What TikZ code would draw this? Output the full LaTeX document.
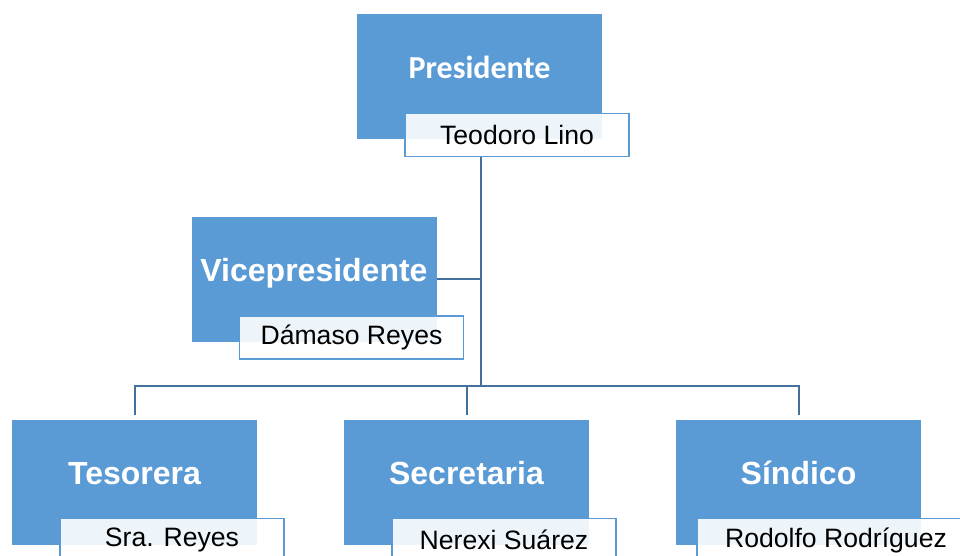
\documentclass[tikz,border=0pt]{standalone}
\usepackage{fontspec}
\setmainfont{Liberation Sans}
\newfontfamily\carlito{Carlito}
\usetikzlibrary{positioning}
\definecolor{cajaazul}{HTML}{5B9BD5}
\definecolor{lineaazul}{HTML}{41719C}
\tikzstyle{cargo}=[rectangle,fill=cajaazul,text=white,font=\bfseries\fontsize{16}{19}\selectfont,minimum width=122.5pt,minimum height=62.5pt,inner sep=0pt,text height=12pt,text depth=10pt]
\tikzstyle{nombre}=[rectangle,draw=cajaazul,line width=.8pt,fill=white,fill opacity=.9,text opacity=1,font=\fontsize{13.3}{16}\selectfont,minimum width=112pt,minimum height=21.5pt,inner xsep=10pt,inner ysep=0pt]
\tikzstyle{enlace}=[draw=lineaazul,line width=1pt]

\begin{document}
\begin{tikzpicture}[x=.5pt,y=-.5pt]
		\path[use as bounding box,clip] (0,0) rectangle (960,556);
		% cargos
		\node[cargo] (pres) at (479.5,77) {\carlito\bfseries Presidente};
		\node[cargo] (vice) at (314,279.5) {Vicepresidente};
		\node[cargo] (teso) at (134.5,482) {Tesorera};
		\node[cargo] (secr) at (466.5,482) {Secretaria};
		\node[cargo] (sind) at (798.5,482) {Síndico};
		% nombres
		\node[nombre] (presn) at ([shift={(37.5,58)}]pres.center) {Teodoro Lino};
		\node[nombre] (vicen) at ([shift={(37.5,58)}]vice.center) {Dámaso Reyes};
		\node[nombre] (teson) at ([shift={(37.5,58)}]teso.center) {Sra. Reyes};
		\node[nombre] (secrn) at ([shift={(37.5,58)}]secr.center) {Nerexi Suárez};
		\node[nombre,inner xsep=14pt] (sindn) at ([shift={(37.5,58)}]sind.center) {Rodolfo Rodríguez};
		% enlaces
		\coordinate (hub) at (480.5,386);
		\draw[enlace] (presn.south -| hub) -- (hub);
		\draw[enlace] (vice.east) -- (vice.east -| hub);
		\draw[enlace,shorten >=2pt] (hub) -| (teso.north);
		\draw[enlace,shorten >=2pt] (hub) -| (secr.north);
		\draw[enlace,shorten >=2pt] (hub) -| (sind.north);
	\end{tikzpicture}
\end{document}
